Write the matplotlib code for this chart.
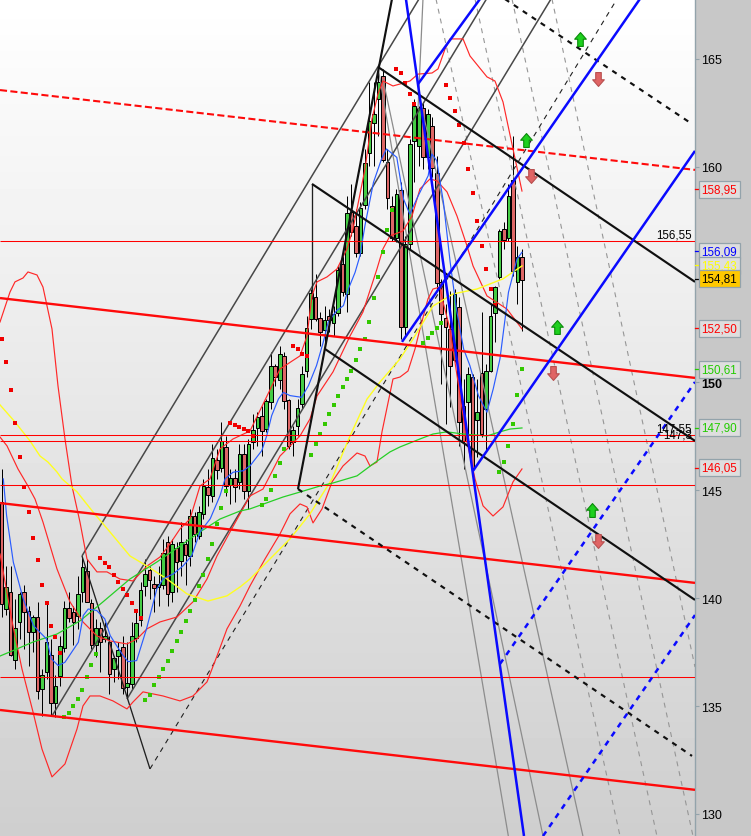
import numpy as np
import matplotlib
matplotlib.use("Agg")
import matplotlib.pyplot as plt
from matplotlib.path import Path

plt.rcParams['font.family'] = ['Liberation Sans', 'DejaVu Sans']

# ---------- candles ----------
candle_open = [144.45,139.51,140.31,137.14,138.89,140.28,139.4,138.42,139.12,135.77,
 136.6,137.37,135.15,136.38,137.68,139.54,139.35,139.17,140.28,141.28,
 139.77,137.81,138.61,138.11,137.99,136.73,137.31,137.73,135.88,136.02,
 138.15,138.98,140.56,141.3,140.65,140.51,140.62,142.6,140.28,142.35,
 141.73,142.5,141.95,143.8,142.9,143.92,145.16,144.75,146.42,146.02,
 146.99,145.25,145.59,145.37,146.7,144.97,147.26,147.88,148.46,147.84,
 149.11,150.75,150.11,151.24,149.2,147.26,147.97,148.99,150.53,152.94,
 153.98,152.97,152.42,153.1,152.76,153.22,155.5,154.08,157.88,157.24,
 156.0,158.22,160.63,162.02,163.14,164.22,160.23,158.19,156.68,158.93,
 152.55,156.42,161.2,160.97,162.7,160.43,161.87,159.71,154.64,152.97,
 152.48,151.06,153.48,148.93,149.11,150.24,148.25,150.42,148.77,150.55,
 153.21,154.87,157.1,156.68,159.37,154.64,155.8]
candle_close = [139.74,140.51,137.37,138.61,140.19,139.38,138.42,139.12,135.72,136.46,
 137.99,135.15,135.92,137.78,139.54,139.07,138.89,140.19,141.44,139.81,
 137.84,138.61,137.99,138.27,136.49,137.22,137.62,135.83,136.05,138.27,
 138.84,140.37,141.11,140.83,140.46,140.65,142.1,140.19,142.5,141.7,
 142.6,142.01,143.8,142.97,143.99,145.22,144.79,146.48,145.96,147.27,
 145.19,145.56,145.17,146.7,144.97,147.16,147.81,148.41,147.75,149.16,
 150.78,150.24,151.3,149.16,147.07,147.81,148.83,150.41,152.51,154.13,
 152.94,152.32,152.88,152.91,153.19,155.23,154.18,157.85,156.96,156.0,
 158.1,160.15,162.13,162.44,163.91,160.31,158.53,156.71,158.75,152.55,
 156.42,161.07,162.83,162.7,160.43,162.43,159.92,154.61,153.17,152.55,
 150.75,154.1,148.18,147.3,150.38,146.05,148.65,147.6,150.55,153.06,
 154.41,157.0,156.59,158.66,155.18,155.8,154.76]
candle_high = [146.0,141.51,141.51,139.97,140.28,140.59,139.66,139.2,139.81,136.73,
 139.81,138.11,136.42,138.27,139.89,140.28,139.66,141.05,141.9,141.82,
 139.97,139.04,138.89,138.89,138.27,137.34,137.96,138.27,137.96,138.89,
 139.35,140.74,141.82,141.51,141.05,141.51,142.75,142.9,142.75,142.6,
 143.52,142.75,144.14,143.99,144.29,145.53,146.0,147.15,146.92,148.15,
 147.54,145.99,145.99,147.15,147.15,147.38,148.54,148.62,148.93,149.24,
 151.4,150.86,151.7,151.4,149.24,148.0,149.24,150.78,153.1,154.33,
 155.03,153.25,153.56,153.41,153.56,155.41,155.88,158.66,159.2,158.04,
 158.35,160.82,163.91,163.91,164.53,164.53,160.82,158.66,158.97,159.27,
 156.8,161.28,163.14,162.83,162.98,162.67,162.3,160.51,154.8,153.64,
 154.25,154.33,153.94,150.16,150.7,150.39,150.16,153.25,150.86,153.64,
 154.49,157.11,157.42,159.2,161.44,156.34,156.19]
candle_low = [139.12,139.2,137.34,136.73,138.1,137.65,136.88,137.5,135.33,134.56,
 136.26,134.56,134.49,135.95,137.5,138.89,137.81,138.58,139.81,139.81,
 137.65,137.27,136.57,137.96,135.57,136.11,136.26,135.57,135.33,135.8,
 137.96,138.73,140.12,139.97,139.35,139.66,140.43,139.66,139.81,140.28,
 141.05,140.59,141.51,142.6,142.75,143.68,144.29,144.45,145.53,145.84,
 144.75,144.37,144.45,145.06,144.6,144.14,146.92,147.07,146.61,147.69,
 148.77,149.85,149.7,148.77,146.92,146.61,147.53,148.77,150.24,152.48,
 152.86,151.7,151.7,152.32,152.17,153.1,154.02,153.25,156.8,155.8,
 155.88,158.04,160.05,160.05,161.44,160.2,158.04,156.57,156.49,152.0,
 152.17,156.2,159.27,160.05,159.89,159.89,159.5,154.33,149.93,148.08,
 148.85,150.93,147.07,145.99,147.15,145.99,146.53,147.46,146.76,150.47,
 151.86,154.8,156.2,156.57,154.95,153.64,152.4]

# ---------- indicators: bar position, price ----------
upper_x = [-0.37,1.86,2.97,4.76,5.87,7.88,9.21,11.22,12.56,14.12,15.68,17.46,19.02,21.25,23.48,26.38,29.28,32.4,35.3,37.53,39.76,41.99,44.22,46.45,48.68,51.58,55.37,59.16,62.06,64.74,66.52,68.08,69.19,70.31,72.54,74.77,77,78.34,81.01,82.57,83.91,85.02,87.25,88.81,91.04,92.83,95.95,97.29,98.85,99.97,102.87,104.42,108.21,109.99,111.78,114.01,116.01]
upper_y = [152.8,154.19,154.66,154.84,155.12,154.98,154.42,152.48,149.84,147.38,145.2,143.53,141.82,141.22,141.22,140.89,140.8,141.49,141.91,142.52,143.21,143.67,145.2,145.53,146.92,147.38,147.75,149.37,150.62,150.99,151.23,152.15,154.01,154.66,154.89,155.26,156.19,157.11,159.89,162.21,163.37,163.97,163.74,163.83,163.97,164.29,164.34,164.53,165.45,165.92,165.92,165.13,164.16,163.97,163.0,160.82,158.87]
middle_x = [-0.37,1.19,3.64,5.87,7.43,9.21,12.33,15.23,18.13,21.25,24.15,27.94,30.17,32.4,35.3,39.09,42.66,45.78,48.01,50.91,55.37,58.27,62.06,66.52,68.75,70.31,73.88,77.67,80.57,83.68,85.02,86.58,89.48,91.49,93.27,95.5,97.07,99.3,101.53,103.76,105.1,108.21,112.67,116.01]
middle_y = [147.47,147.06,145.99,145.2,144.6,143.53,141.36,139.83,138.9,138.25,138.02,137.88,138.11,138.58,138.9,139.13,139.83,140.89,141.96,143.07,144.74,145.06,146.59,147.52,148.31,149.37,150.49,152.15,153.27,155.26,156.19,156.79,157.02,157.71,158.97,159.43,159.34,158.83,157.71,156.32,155.4,154.01,153.4,152.48]
lower_x = [-0.37,2.53,4.53,6.99,8.99,11.22,14.12,16.8,18.13,19.69,21.92,24.82,27.94,29.28,31.51,35.97,39.76,42.66,45.78,48.01,50.24,53.14,55.37,58.72,62.06,64.29,66.52,68.08,69.42,71.43,73.66,76.11,79.23,81.01,82.12,83.68,84.8,87.25,88.81,90.6,92.16,93.27,95.05,96.17,97.73,98.4,99.96,101.75,103.76,105.54,107.33,109.56,111.78,114.01,116.01]
lower_y = [142.05,138.71,136.72,134.73,133.01,131.72,132.32,133.94,135.01,135.47,135.47,135.24,134.87,135.19,135.66,135.47,135.24,135.47,136.12,137.32,138.58,139.64,140.57,141.82,142.98,143.91,144.37,144.23,143.49,144.14,145.39,146.13,146.73,146.59,146.13,146.31,147.71,150.16,150.25,150.53,151.55,152.48,153.87,154.33,154.42,153.73,152.48,150.02,147.24,145.53,144.28,143.81,144.23,145.39,145.99]
yellow_x = [-0.37,2.97,6.32,8.55,10.33,12.33,13.45,16.8,20.36,24.15,28.6,32.4,36.86,41.32,46,50.24,53.14,55.37,59.83,64.29,68.75,73.66,77.67,81.46,84.36,88.81,91.71,96.17,100.63,105.98,111.78,116.01]
yellow_y = [148.96,148.17,147.29,146.59,146.31,145.85,145.53,144.93,144.0,143.07,141.96,141.49,140.89,140.2,139.87,140.11,140.52,140.89,141.82,142.75,143.91,145.53,147.52,149.23,150.02,151.09,152.01,153.54,154.1,154.33,154.8,155.4]
green_x = [-0.37,3.42,6.99,12.33,17.46,22.59,28.6,34.62,39.76,44.22,48.68,53.14,55.37,62.73,66.52,70.98,73.88,79.23,82.79,86.58,88.81,93.27,96.17,99.3,102.87,108.21,111.11,113.34,116.01]
green_y = [137.32,137.65,137.97,138.34,138.95,139.83,140.89,141.68,142.42,143.07,143.67,144.04,144.14,144.69,144.92,145.2,145.34,145.67,146.22,146.78,147.01,147.38,147.61,147.71,147.61,147.52,147.71,147.84,147.89]
blue_x = [0.37,1.1,2.6,4.8,7.1,10,11.1,12.6,14.1,17.1,18.2,19.3,21.2,23,24.2,25.6,27.1,28.2,30.1,32.3,34.6,36,38.3,40.5,42.4,44.2,46.5,48.7,49.8,51.6,53.9,55.4,58,59.1,60.2,61.7,62.8,64.3,66.9,68.4,70.2,71.7,72.8,74.7,76.2,77.3,78.8,79.9,81,82.9,84.7,85.8,88.1,89.6,91,92.9,95.1,95.9,97,98.5,100,101.4,103,104.4,106.3,108.2,109.6,111.1,113,114.9,116]
blue_y = [145.53,143.83,141.67,139.97,138.73,138.11,137.19,136.88,137.03,137.96,139.2,139.5,139.43,139.04,138.27,137.81,137.34,137.06,137.11,138.58,140.43,140.9,141.13,141.51,141.98,143.06,143.68,144.76,145.53,145.84,145.91,146.14,146.84,147.53,148.46,149.23,149.54,149.39,149.31,149.85,150.78,151.86,152.79,153.33,153.56,154.33,155.1,155.88,157.27,159.27,160.36,160.82,160.43,158.5,157.8,158.66,159.58,160.59,160.28,158.35,155.57,153.4,151.55,150.78,149.39,148.62,149.7,151.09,154.18,155.72,156.03]

sar_red_bar = [0,1,2,3,4,5,6,7,8,9,10,11,12,13,22,23,24,25,26,27,28,29,30,31,51,52,53,54,55,56,65,66,67,68,88,89,90,91,92,99,100,101,102,103,104,105,106,107,108,109,110]
sar_red_val = [152.0,150.95,149.65,148.12,146.55,145.14,143.99,142.78,141.78,140.59,139.77,138.7,138.19,137.45,141.85,141.62,141.44,141.07,140.74,140.42,140.14,139.77,139.4,139.07,148.11,148.01,147.92,147.86,147.74,147.54,151.7,151.54,151.3,151.24,164.51,164.33,163.86,163.35,162.89,163.77,163.17,162.56,161.95,161.08,159.88,158.76,157.47,156.31,155.24,154.32,153.57]
sar_green_bar = [14,15,16,17,18,19,20,21,32,33,34,35,36,37,38,39,40,41,42,43,44,45,46,47,48,49,50,58,59,60,61,62,63,69,70,71,72,73,74,75,76,77,78,79,80,81,82,83,84,85,86,87,94,95,96,97,98,111,112,113,114,115,116]
sar_green_val = [134.49,134.67,135.0,135.32,135.74,136.34,136.89,137.4,135.27,135.5,135.97,136.34,136.71,137.08,137.54,138.01,138.42,138.93,139.4,139.91,140.56,141.07,141.81,142.5,143.43,144.17,144.96,144.32,144.58,145.0,145.65,146.25,146.9,146.63,147.13,147.61,148.06,148.54,148.96,149.36,149.77,150.15,150.52,151.03,151.54,152.0,152.79,153.9,154.87,156.03,157.05,157.98,151.81,152.05,152.28,152.51,152.74,145.84,146.3,147.04,148.06,149.4,150.61]

# ---------- drawn lines: ((bar, price), (bar, price)) ----------
level_prices = [156.55, 147.55, 147.3, 145.26, 136.34]
red_channel = [((-0.37,153.91),(154.59,150.21)), ((-0.37,144.41),(154.59,140.71)), ((-0.37,134.82),(154.59,131.12))]
red_dashed = [((-0.37,163.55),(154.59,159.85))]
black_thick = [((83.91,164.62),(154.59,154.66)), ((69.19,159.2),(154.59,147.29)), ((72.09,151.55),(154.59,139.92)), ((66.07,145.06),(87.03,167.77))]
black_dashed = [((66.07,145.06),(153.92,132.69)), ((112.2,167.77),(153.92,161.98))]
black_thin = [((69.19,159.2),(69.19,153.87)), ((17.91,141.96),(33.07,132.09))]
black_thin_dashed = [((33.07,132.09),(137.2,167.77))]
dark_gray = [((17.91,141.96),(93.05,167.77)), ((11.22,134.54),(108.1,167.77)), ((27.94,135.33),(122.48,167.77))]
blue_solid = [((90.14,167.77),(116.46,128.98)), ((89.26,151.88),(142.3,167.77)), ((105.09,145.9),(154.59,160.73)), ((92.83,163.83),(106.65,167.77))]
blue_dashed = [((111.1,136.95),(154.59,150.02)), ((120.7,128.98),(154.59,139.22))]
gray_solid = [((83.91,164.62),(112.97,128.98)), ((85.02,164.06),(120.7,128.98)), ((93.27,163.14),(129.6,128.98)), ((93.94,167.77),(92.83,162.67))]
gray_dashed = [((96.84,167.77),(137.87,128.98)), ((105.54,167.77),(146.1,128.98)), ((113.79,167.77),(154.14,128.98)), ((122.7,167.77),(154.59,136.81))]

arrow_up_bar = [128.95, 116.9, 123.8, 131.6]
arrow_up_val = [165.92, 161.24, 152.57, 144.09]
arrow_down_bar = [133.0, 118.0, 122.9, 133.0]
arrow_down_val = [164.06, 159.57, 150.44, 142.65]

axis_ticks = [130, 135, 140, 145, 150, 160, 165]
value_labels = [158.95, 156.09, 155.43, 154.81, 152.50, 150.61, 147.90, 146.05]
value_colors = ['#ff0000', '#0000ff', '#ffff00', '#000000', '#ff0000', '#22cc00', '#22cc00', '#ff0000']
inner_labels = ['156,55', '147,55', '147,3']
inner_prices = [156.55, 147.55, 147.3]

# ---------- figure ----------
fig = plt.figure(figsize=(7.51, 8.37), dpi=100, facecolor='#c8c8c8')
ax = fig.add_axes([0, 0, 695 / 751, 1])
XMIN, XMAX, YMIN, YMAX = -0.37, 154.59, 128.98, 167.77

grad = np.linspace(1.0, 0.81, 256).reshape(-1, 1)
ax.imshow(grad, extent=[XMIN, XMAX, YMIN, YMAX], aspect='auto', cmap='gray', vmin=0, vmax=1, zorder=0, origin='upper')

bars = np.arange(len(candle_open))
o, c = np.array(candle_open), np.array(candle_close)
up = c >= o
wicks = ax.vlines(bars, candle_low, candle_high, color='black', lw=0.72, zorder=2)
wicks.set_snap(True)
ax.bar(bars, np.abs(c - o), bottom=np.minimum(o, c), width=0.8,
       color=np.where(up, '#44cc44', '#dd6666'), edgecolor='black', linewidth=0.72, zorder=2.5)

def draw(segments, **kw):
    for (a, b) in segments:
        ax.plot([a[0], b[0]], [a[1], b[1]], solid_capstyle='butt', **kw)

draw(gray_solid, color='#8c8c8c', lw=0.9, zorder=2.7)
draw(gray_dashed, color='#969696', lw=0.8, ls=(0, (4.5, 4.5)), zorder=2.7)
draw(dark_gray, color='#484848', lw=1.1, zorder=2.8)
draw(black_thin, color='#202020', lw=0.95, zorder=2.8)
draw(black_thin_dashed, color='#202020', lw=0.8, ls=(0, (4.5, 4.5)), zorder=2.8)

ax.plot(upper_x, upper_y, color='#ff2828', lw=0.85, zorder=3)
ax.plot(middle_x, middle_y, color='#ff2828', lw=0.85, zorder=3)
ax.plot(lower_x, lower_y, color='#ff2828', lw=0.85, zorder=3)
ax.plot(yellow_x, yellow_y, color='#ffff20', lw=1.0, zorder=3)
ax.plot(green_x, green_y, color='#26cf26', lw=0.9, zorder=3)
ax.plot(blue_x, blue_y, color='#2a5cff', lw=0.85, zorder=3)

ax.scatter(sar_red_bar, sar_red_val, marker='s', s=7, c='#f00000', linewidths=0, zorder=3.2)
ax.scatter(sar_green_bar, sar_green_val, marker='s', s=7, c='#33c800', linewidths=0, zorder=3.2)

levels = ax.hlines(level_prices, XMIN, XMAX, color='#ff0000', lw=0.75, zorder=3.5)
levels.set_snap(True)
draw(red_channel, color='#ff0a0a', lw=1.7, zorder=3.6)
draw(red_dashed, color='#ff0a0a', lw=1.5, ls=(0, (3.4, 1.6)), zorder=3.6)
draw(black_thick, color='#101010', lw=1.55, zorder=3.8)
draw(black_dashed, color='#101010', lw=1.55, ls=(0, (2.4, 2.6)), zorder=3.8)
draw(blue_solid, color='#0a0aff', lw=1.8, zorder=4)
draw(blue_dashed, color='#0a0aff', lw=1.8, ls=(0, (2.2, 2.2)), zorder=4)

up_arrow = Path([(-0.42, 0.02), (0, 0.5), (0.42, 0.02), (0.2, 0.02), (0.2, -0.5), (-0.2, -0.5), (-0.2, 0.02), (-0.42, 0.02)], closed=True)
down_arrow = Path([(-0.42, -0.02), (0, -0.5), (0.42, -0.02), (0.2, -0.02), (0.2, 0.5), (-0.2, 0.5), (-0.2, -0.02), (-0.42, -0.02)], closed=True)
ax.scatter(arrow_up_bar, arrow_up_val, marker=up_arrow, s=100, c='#1ed01e', edgecolors='#0a8a0a', linewidths=0.8, zorder=5)
ax.scatter(arrow_down_bar, arrow_down_val, marker=down_arrow, s=100, c='#e06464', edgecolors='#b85050', linewidths=0.8, zorder=5)

for txt, pr in zip(inner_labels, inner_prices):
    ax.text(153.9, pr + 0.03, txt, ha='right', va='bottom', fontsize=8.3, color='black', zorder=6)

ax.set_xlim(XMIN, XMAX)
ax.set_ylim(YMIN, YMAX)
ax.set_xticks([])
ax.yaxis.tick_right()
ax.set_yticks(axis_ticks)
ax.set_yticklabels([str(t) for t in axis_ticks])
ax.tick_params(axis='y', length=3, width=0.8, color='#93a3ab', pad=1.5, labelsize=9, labelcolor='black')
for lab in ax.get_yticklabels():
    if lab.get_text() == '150':
        lab.set_fontweight('bold')
for name in ['top', 'left', 'bottom']:
    ax.spines[name].set_visible(False)
ax.spines['right'].set_color('#93a3ab')
ax.spines['right'].set_linewidth(1.0)

tr = ax.get_yaxis_transform()
for val, col in zip(value_labels, value_colors):
    is_last = val == 154.81
    ax.plot([1.0, 1.0058], [val, val], transform=tr, color=col, lw=0.9, clip_on=False, zorder=6)
    ax.text(1.0095, val, f'{val:.2f}'.replace('.', ','), transform=tr, ha='left', va='center',
            fontsize=8.4, color=col, clip_on=False, zorder=7 + (1 if is_last else 0),
            bbox=dict(boxstyle='square,pad=0.2', fc='#ffc800' if is_last else '#dedede',
                      ec='#93a3ab', lw=0.9))

fig.savefig('out.png', dpi=100, facecolor=fig.get_facecolor())
